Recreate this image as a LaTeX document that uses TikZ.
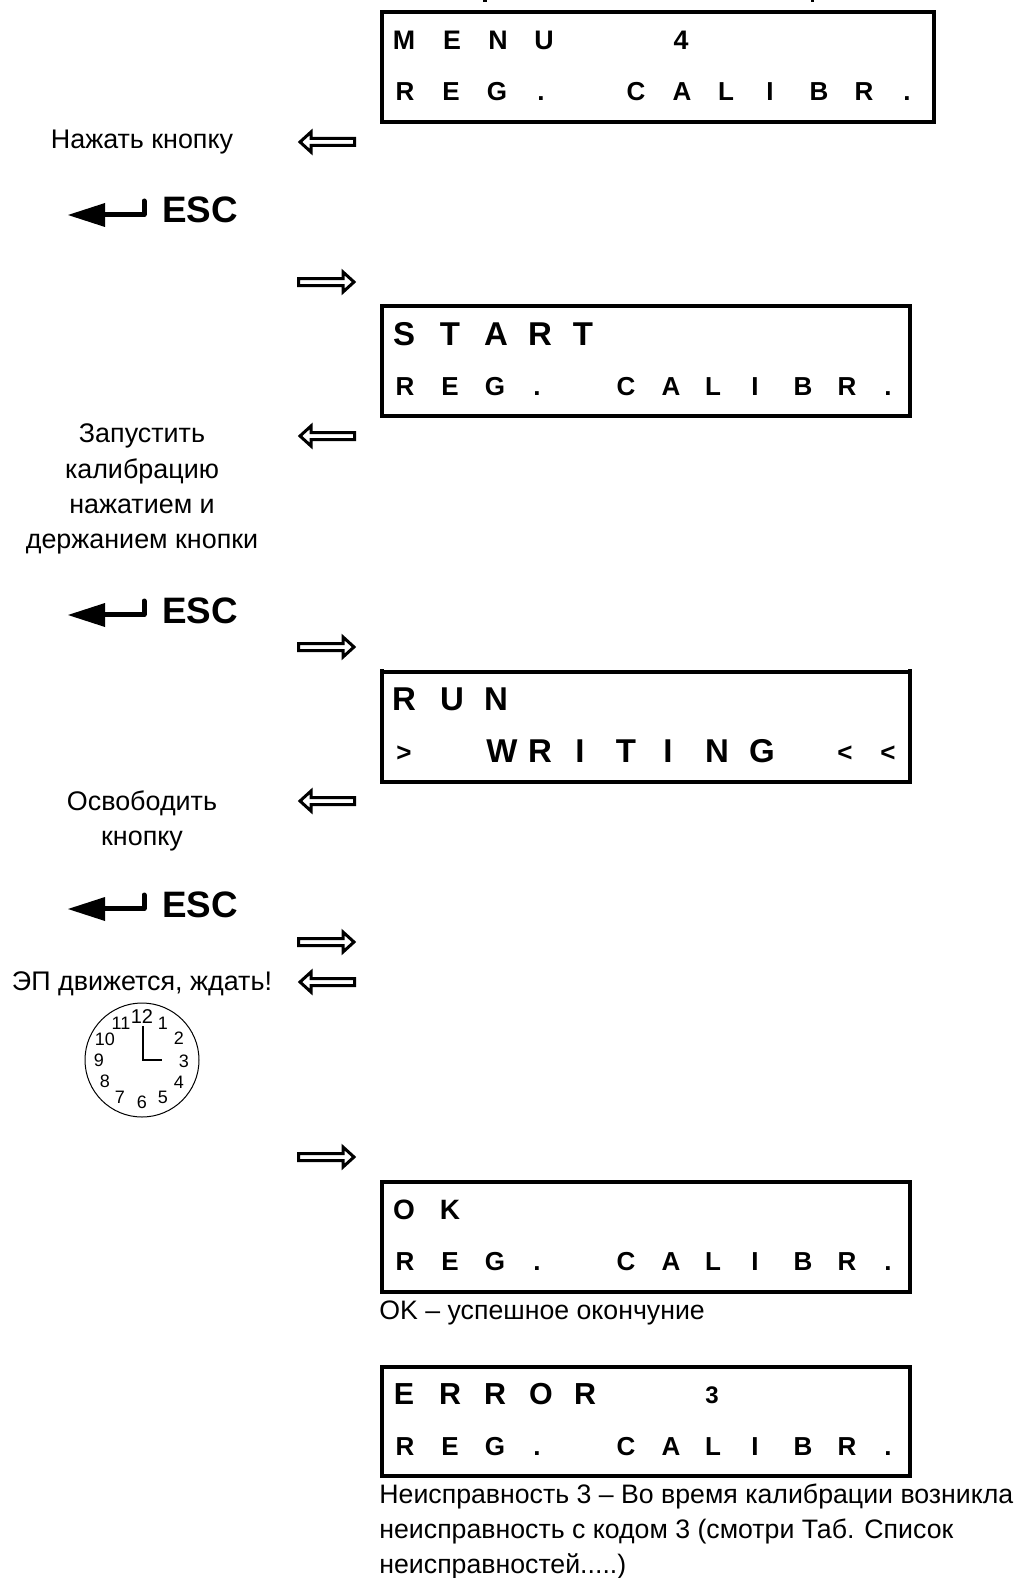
\documentclass[tikz,border=0pt]{standalone}
\usepackage{fontspec}
\setmainfont{Liberation Sans}
\newcommand{\pxfont}[1]{\fontsize{#1}{#1}\selectfont}
\tikzset{
  x=0.5pt,y=-0.5pt,
  lcdbox/.style={draw=black,line width=2pt,fill=white,inner sep=0pt,rectangle},
  lcdch/.style={inner sep=0pt,anchor=base,font=\bfseries},
  lbl/.style={inner sep=0pt,anchor=base,font=\pxfont{13.45pt}},
  lbll/.style={inner sep=0pt,anchor=base west,font=\pxfont{13.35pt}},
  esc/.style={inner sep=0pt,anchor=base west,font=\bfseries\pxfont{18.4pt}},
  clk/.style={inner sep=0pt,anchor=center,font=\pxfont{9pt}},
  blk/.style={draw=black,line width=1.5pt,fill=white,line join=miter,miter limit=3},
}
\newcommand{\lcdrow}[4]{% name, size pt, baseline, list
  \foreach \xx/\ll [count=\ii] in {#4}{
    \node[lcdch,font=\bfseries\pxfont{#2}] (#1-\ii) at (\xx,#3) {\ll};
  }}
\newcommand{\larr}[1]{\draw[blk] (300,#1) -- (311,#1-10) -- (311,#1-3.5) -- (354.5,#1-3.5) -- (354.5,#1+3.5) -- (311,#1+3.5) -- (311,#1+10) -- cycle;}
\newcommand{\rarr}[1]{\draw[blk] (354,#1) -- (343,#1-10) -- (343,#1-3.5) -- (298.5,#1-3.5) -- (298.5,#1+3.5) -- (343,#1+3.5) -- (343,#1+10) -- cycle;}
\newcommand{\enter}[2]{% name, y of tip
  \fill (68,#2) -- (105,#2-12) -- (105,#2+12) -- cycle;
  \draw[line width=2.5pt,line cap=round,line join=round] (104,#2-0.5) -- (144,#2-0.5) -- (144,#2-14);
  \node[esc] (#1) at (162,#2+8) {ESC};}
\begin{document}
\begin{tikzpicture}
\useasboundingbox (0,0) rectangle (1014,1578);
\fill[white] (0,0) rectangle (1014,1578);
% cut-off text descenders at the top edge
\fill (483,0) rectangle (487,2);
\fill (811,0) rectangle (814,2);
% box 1
\node[lcdbox,minimum width=276pt,minimum height=55pt] (b1) at (657.5,67) {};
\lcdrow{m}{13.4pt}{50}{404/M,452/E,498/N,544/U,681/4}
\lcdrow{r}{13pt}{101}{405/R,451/E,497/G,541/.,636/C,682/A,726/L,770/I,819/B,864/R,907/.}
% box 2
\node[lcdbox,minimum width=264pt,minimum height=55pt] (b2) at (645.75,361) {};
\lcdrow{s}{16.5pt}{345}{404/S,450/T,496/A,540/R,583/T}
\lcdrow{t}{13pt}{395}{405/R,450/E,495/G,537/.,626/C,671/A,713/L,755/I,803/B,847/R,888/.}
% box 3
\node[lcdbox,minimum width=264pt,minimum height=55pt] (b3) at (645.75,727) {};
\draw[line width=2pt] (381.5,669) -- (381.5,674);
\draw[line width=2pt] (910,669) -- (910,674);
\lcdrow{u}{16.5pt}{710}{404/R,452/U,496/N}
\lcdrow{v}{16.5pt}{762}{502/W,540/R,580/I,626/T,668/I,717/N,762/G}
\lcdrow{y}{13pt}{761}{404/>,845/<,888/<}
% box 4
\node[lcdbox,minimum width=264pt,minimum height=55pt] (b4) at (645.75,1237) {};
\lcdrow{o}{14pt}{1219}{404/O,450/K}
\lcdrow{w}{13pt}{1270}{405/R,450/E,495/G,537/.,626/C,671/A,713/L,755/I,803/B,847/R,888/.}
\node[lbll] (okt) at (379,1319) {OK – успешное окончуние};
% box 5
\node[lcdbox,minimum width=264pt,minimum height=54.5pt] (b5) at (645.75,1421.5) {};
\lcdrow{e}{15.2pt}{1404}{404/E,450/R,495/R,541/O,585/R}
\lcdrow{g}{12pt}{1403}{712/3}
\lcdrow{f}{13pt}{1455}{405/R,450/E,495/G,537/.,626/C,671/A,713/L,755/I,803/B,847/R,888/.}
\node[lbll] (n1) at (379,1503) {Неисправность 3 – Во время калибрации возникла};
\node[lbll] (n2) at (379,1538) {неисправность с кодом 3 (смотри Таб. Список};
\node[lbll] (n3) at (379,1573) {неисправностей.....)};
% left labels
\node[lbl] (a1) at (142,149) {Нажать кнопку};
\node[lbl] (a2) at (142,442) {Запустить};
\node[lbl] (a3) at (142,478) {калибрацию};
\node[lbl] (a4) at (142,513) {нажатием и};
\node[lbl] (a5) at (142,548) {держанием кнопки};
\node[lbl] (a6) at (142,810) {Освободить};
\node[lbl] (a7) at (142,845) {кнопку};
\node[lbl] (a8) at (142,990) {ЭП движется, ждать!};
% enter/ESC keys
\enter{k1}{215}
\enter{k2}{615}
\enter{k3}{909}
% block arrows
\larr{142}\rarr{282}\larr{436}\rarr{647}\larr{801}\rarr{942}\larr{982}\rarr{1157}
% clock
\draw[line width=0.5pt] (142,1060) circle (57);
\draw[line width=1.2pt,line join=miter] (143,1026) -- (143,1060) -- (162,1060);
\node[clk,font=\pxfont{10pt}] (h12) at (142,1017) {12};
\node[clk] (h1) at (163,1023) {1};
\node[clk] (h2) at (179,1038) {2};
\node[clk] (h3) at (184,1061) {3};
\node[clk] (h4) at (179,1082) {4};
\node[clk] (h5) at (163,1097) {5};
\node[clk] (h6) at (142,1102) {6};
\node[clk] (h7) at (120,1097) {7};
\node[clk] (h8) at (105,1081) {8};
\node[clk] (h9) at (99,1060) {9};
\node[clk] (h10) at (105,1039) {10};
\node[clk] (h11) at (121,1023) {11};
\end{tikzpicture}
\end{document}
